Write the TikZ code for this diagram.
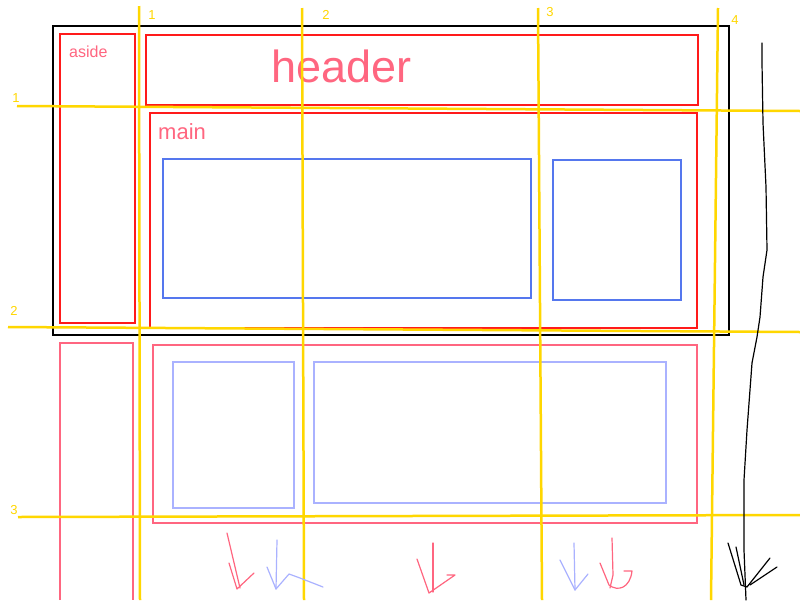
\documentclass[tikz,border=0pt]{standalone}
\usepackage{fontspec}
\setmainfont{Liberation Sans}
\definecolor{rd}{HTML}{FF1A1A}
\definecolor{pk}{HTML}{FF6680}
\definecolor{bl}{HTML}{5577EE}
\definecolor{lb}{HTML}{AAB2FF}
\definecolor{yl}{HTML}{FFD700}
\tikzset{
  frame/.style={draw=black,line width=2.5pt},
  redbox/.style={draw=rd,line width=2pt},
  pinkbox/.style={draw=pk,line width=2pt},
  bluebox/.style={draw=bl,line width=1.8pt},
  lbluebox/.style={draw=lb,line width=1.8pt},
  guide/.style={draw=yl,line width=2.5pt},
  guidelabel/.style={text=yl,font=\fontsize{13}{13}\selectfont,inner sep=0pt},
  pinktext/.style={text=pk,inner sep=0pt},
  pinkpen/.style={draw=pk,line width=1.2pt,line join=round,line cap=round},
  bluepen/.style={draw=lb,line width=1.2pt,line join=round,line cap=round},
  blackpen/.style={draw=black,line width=1.2pt,line join=round,line cap=round}
}
\begin{document}
\begin{tikzpicture}[x=1pt,y=-1pt]
\useasboundingbox[fill=white] (0,0) rectangle (800,600);
% upper layout
\draw[frame] (53,26) rectangle (729,335);
\draw[redbox] (60,34) rectangle (135,323);
\draw[redbox] (146,35) rectangle (698,105);
\draw[redbox] (150,113) rectangle (697,328);
\draw[bluebox] (163,159) rectangle (531,298);
\draw[bluebox] (553,160) rectangle (681,300);
% lower layout
\draw[pinkbox] (60,600) -- (60,343) -- (133,343) -- (133,600);
\draw[pinkbox] (153,345) rectangle (697,523);
\draw[lbluebox] (173,362) rectangle (294,508);
\draw[lbluebox] (314,362) rectangle (666,503);
% texts
\node[pinktext,font=\fontsize{16}{16}\selectfont,anchor=west] (tAside) at (69,52) {aside};
\node[pinktext,font=\fontsize{22}{22}\selectfont,anchor=west] (tMain) at (158,132) {main};
\node[pinktext,font=\fontsize{45}{45}\selectfont,anchor=west] (tHeader) at (271,66) {header};
% yellow guide lines
\draw[guide] (139,6) -- (140,600);
\draw[guide] (302,8) -- (304,600);
\draw[guide] (538,8) -- (542,600);
\draw[guide] (718,8) -- (711,600);
\draw[guide] (17,106) -- (800,111);
\draw[guide] (8,327) -- (800,332);
\draw[guide] (18,517) -- (800,515);
\node[guidelabel] (v1) at (152,15) {1};
\node[guidelabel] (v2) at (326,15) {2};
\node[guidelabel] (v3) at (550,12) {3};
\node[guidelabel] (v4) at (735,20) {4};
\node[guidelabel] (h1) at (16,98) {1};
\node[guidelabel] (h2) at (14,311) {2};
\node[guidelabel] (h3) at (14,510) {3};
% black flow line on the right
\draw[blackpen] (762,43) -- (762,63) -- (763,123) -- (766,187) -- (767,250) -- (763,277) -- (760,317) -- (757,337) -- (752,363) -- (747,430) -- (744,480) -- (744,550) -- (746,600);
\draw[blackpen] (728,543) -- (741,585) -- (747,587) -- (770,558);
\draw[blackpen] (736,547) -- (744,585);
\draw[blackpen] (777,567) -- (750,585);
% bottom arrows
\draw[pinkpen] (227,533) -- (240,588);
\draw[pinkpen] (229,563) -- (237,589) -- (254,573);
\draw[bluepen] (277,540) -- (276,589);
\draw[bluepen] (267,567) -- (276,589) -- (289,574) -- (300,578) -- (323,587);
\draw[pinkpen] (433,543) -- (433,592);
\draw[pinkpen] (417,559) -- (429,593) -- (455,575) -- (447,575);
\draw[bluepen] (574,543) -- (575,590);
\draw[bluepen] (560,560) -- (575,590) -- (588,574);
\draw[pinkpen] (612,538) -- (613,575) -- (610,588);
\draw[pinkpen] (600,563) -- (609,585) .. controls (618,592) and (630,588) .. (632,571) -- (624,571);
\end{tikzpicture}
\end{document}
